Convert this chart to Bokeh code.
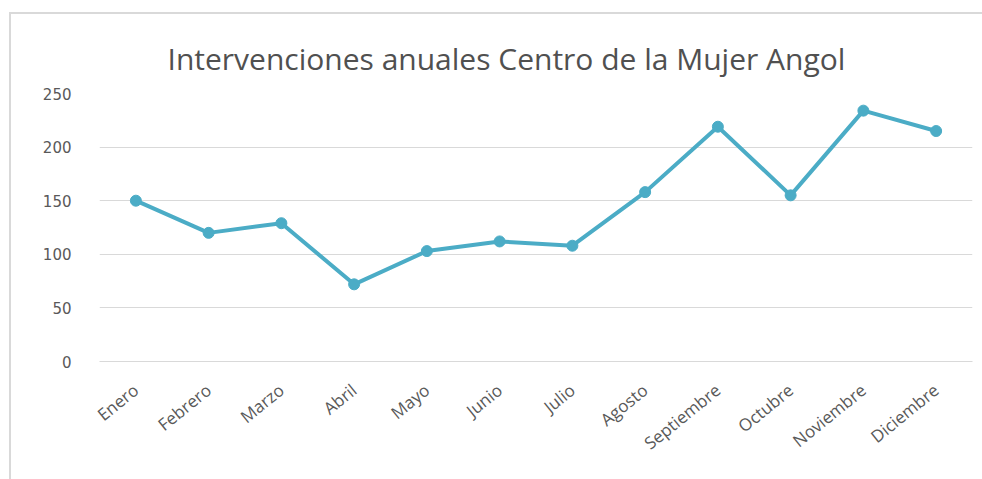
from bokeh.plotting import figure
from bokeh.models import Range1d, FixedTicker
from bokeh.embed import file_html
from bokeh.resources import INLINE

meses = ["Enero", "Febrero", "Marzo", "Abril", "Mayo", "Junio", "Julio",
         "Agosto", "Septiembre", "Octubre", "Noviembre", "Diciembre"]
intervenciones = [150, 120, 129, 72, 103, 112, 108, 158, 219, 155, 234, 215]
y_ticks = [0, 50, 100, 150, 200, 250]
titulo = "Intervenciones anuales Centro de la Mujer Angol"

LINE = "#4BACC6"
TXT = "#595959"
W, H = 973, 467

p = figure(x_range=meses, y_range=Range1d(0, 250),
           width=W, height=H, output_backend="svg", toolbar_location=None,
           title=titulo,
           min_border_left=88, min_border_right=12, min_border_top=79, min_border_bottom=120,
           margin=(12, 0, 0, 9),
           styles={"border-left": "2px solid #d9d9d9", "border-top": "2px solid #d9d9d9"})

p.line(meses, intervenciones, line_color=LINE, line_width=4)
p.scatter(meses, intervenciones, size=11, fill_color=LINE, line_color=LINE)

p.title.align = "left"
p.title.offset = 68
p.title.text_font = "Open Sans"
p.title.text_font_size = "30px"
p.title.text_font_style = "normal"
p.title.text_color = "#505050"
p.title.standoff = 30

p.outline_line_color = None
p.xgrid.grid_line_color = None
p.ygrid.grid_line_color = "#d9d9d9"
p.ygrid.grid_line_width = 1

p.yaxis.ticker = FixedTicker(ticks=y_ticks)
p.yaxis.axis_line_color = None
p.yaxis.major_tick_line_color = None
p.yaxis.minor_tick_line_color = None
p.yaxis.major_label_text_font = "DejaVu Sans"
p.yaxis.major_label_text_font_size = "15px"
p.yaxis.major_label_text_color = TXT
p.yaxis.major_label_standoff = 22

p.xaxis.axis_line_color = "#d9d9d9"
p.xaxis.major_tick_line_color = None
p.xaxis.minor_tick_line_color = None
p.xaxis.major_label_orientation = 0.68
p.xaxis.major_label_text_font = "Open Sans"
p.xaxis.major_label_text_font_size = "17px"
p.xaxis.major_label_text_color = TXT
p.xaxis.major_label_standoff = 20

open("out.html", "w").write(file_html(p, INLINE))
